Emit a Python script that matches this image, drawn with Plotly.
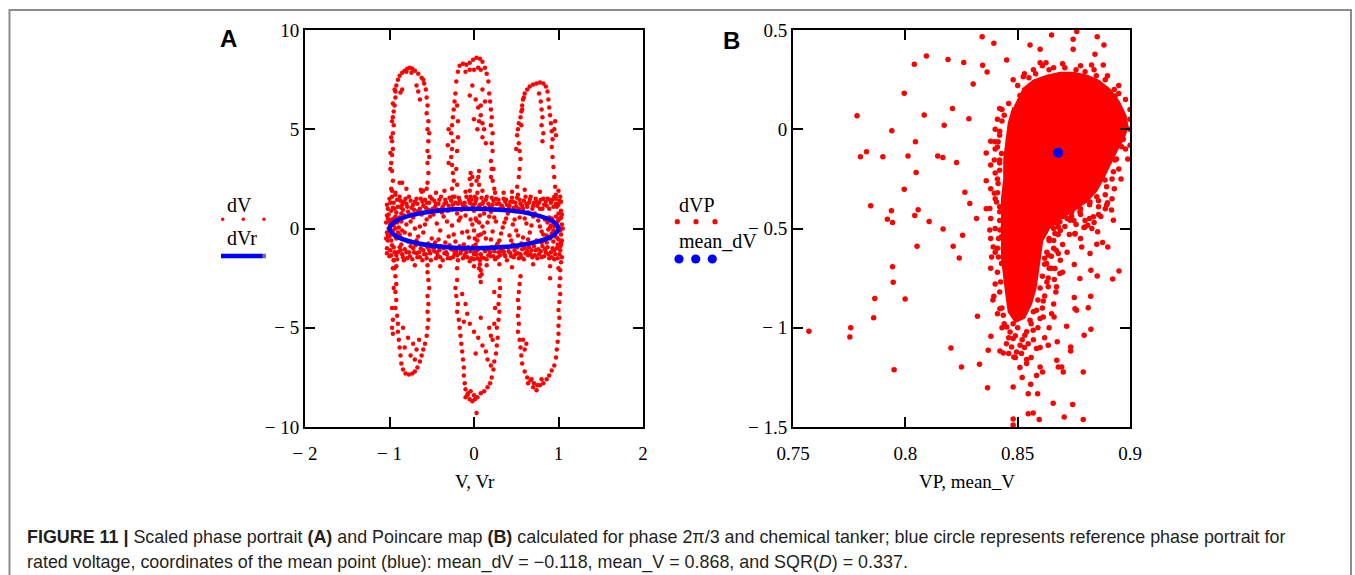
import plotly.graph_objects as go

W, H = 1355, 575

# ---------------- Panel A: scaled phase portrait (V, dV) ----------------
# samples in the central band around the reference portrait
dv_band = [
    (-1.03,1.2),(-1.0,1.5),(-0.98,0.9),(-0.95,1.3),(-0.93,1.7),(-0.9,1.1),(-0.87,1.4),(-0.84,0.95),(-0.8,1.25),
    (-0.77,1.6),(-0.74,1.05),(-0.7,1.35),(-0.66,0.9),(-0.63,1.5),(-0.6,1.15),(-0.56,1.3),(-0.52,1.6),(-0.49,1.0),
    (-0.45,1.25),(-0.41,1.45),(-0.37,1.1),(-0.33,1.3),(-0.29,1.55),(-0.25,1.2),(-0.21,1.0),(-0.17,1.4),(-0.13,1.15),
    (-0.09,1.6),(-0.05,1.3),(-0.01,1.05),(0.03,1.5),(0.07,1.2),(0.11,1.35),(0.15,1.6),(0.19,1.1),(0.23,1.4),
    (0.27,1.25),(0.31,1.0),(0.35,1.5),(0.39,1.2),(0.43,1.35),(0.47,1.05),(0.51,1.55),(0.55,1.25),(0.59,1.4),
    (0.63,1.1),(0.67,1.6),(0.71,1.3),(0.75,1.15),(0.79,1.45),(0.83,1.2),(0.87,1.5),(0.91,1.3),(0.95,1.6),
    (0.98,1.1),(1.01,1.4),(1.03,0.9),
    (-1.01,0.7),(-0.96,1.05),(-0.92,0.8),(-0.88,1.6),(-0.85,1.2),(-0.81,1.5),(-0.78,0.85),(-0.72,1.2),(-0.68,1.5),
    (-0.64,1.0),(-0.58,1.45),(-0.54,0.95),(-0.47,1.4),(-0.43,0.95),(-0.39,1.6),(-0.35,1.25),(-0.31,0.9),(-0.27,1.4),
    (-0.23,1.6),(-0.19,1.25),(-0.15,0.95),(-0.11,1.3),(-0.07,1.0),(-0.03,1.45),(0.01,1.25),(0.05,1.0),(0.09,1.55),
    (0.13,1.05),(0.17,1.25),(0.21,1.55),(0.25,0.95),(0.29,1.45),(0.33,1.15),(0.37,1.35),(0.41,1.0),(0.45,1.55),
    (0.49,1.3),(0.53,1.0),(0.57,1.15),(0.61,1.6),(0.65,1.3),(0.69,1.0),(0.73,1.5),(0.77,1.3),(0.81,1.0),
    (0.85,1.35),(0.89,1.0),(0.93,1.45),(0.97,1.25),(1.0,0.75),(1.02,1.6),
    (-1.02,1.0),(-0.99,1.3),(-0.94,1.0),(-0.91,1.45),(-0.86,1.05),(-0.83,1.35),(-0.79,1.1),(-0.75,1.4),
    (-0.71,0.95),(-0.67,1.25),(-0.61,1.35),(-0.57,1.05),(-0.53,1.3),(-0.5,1.5),(-0.46,1.1),(-0.42,1.25),
    (-0.38,1.0),(-0.34,1.45),(-0.3,1.15),(-0.26,1.0),(-0.22,1.3),(-0.18,1.55),(-0.14,1.25),(-0.1,1.1),
    (-0.06,1.45),(-0.02,1.2),(0.02,1.4),(0.06,1.1),(0.1,1.25),(0.14,1.45),(0.18,1.0),(0.22,1.2),(0.26,1.5),
    (0.3,1.25),(0.34,1.05),(0.38,1.45),(0.42,1.15),(0.46,1.35),(0.5,1.1),(0.54,1.45),(0.58,1.0),(0.62,1.25),
    (0.66,1.45),(0.7,1.15),(0.74,1.35),(0.78,1.0),(0.82,1.5),(0.86,1.15),(0.9,1.45),(0.94,1.1),(0.97,1.5),
    (1.0,1.2),(1.03,1.35),
    (-0.97,1.9),(-0.8,2.0),(-0.45,1.8),(-0.35,1.9),(0.1,1.9),(0.35,1.8),(0.6,1.95),(0.78,1.85),(1.0,1.9),
    (-0.62,1.85),(0.45,1.85),(-0.1,1.85),(0.25,1.8),
    (-1.03,-1.0),(-1.0,-1.4),(-0.97,-0.85),(-0.94,-1.2),(-0.91,-1.55),(-0.88,-0.95),(-0.85,-1.3),(-0.82,-1.05),
    (-0.79,-1.5),(-0.75,-0.9),(-0.71,-1.2),(-0.67,-1.45),(-0.63,-1.0),(-0.59,-1.3),(-0.55,-0.95),(-0.51,-1.6),
    (-0.47,-1.15),(-0.43,-1.35),(-0.39,-0.9),(-0.35,-1.25),(-0.31,-1.5),(-0.27,-1.05),(-0.23,-1.3),(-0.19,-1.6),
    (-0.15,-1.1),(-0.11,-1.35),(-0.07,-0.95),(-0.03,-1.5),(0.01,-1.2),(0.05,-1.0),(0.09,-1.45),(0.13,-1.15),
    (0.17,-1.35),(0.21,-0.95),(0.25,-1.55),(0.29,-1.2),(0.33,-1.0),(0.37,-1.4),(0.41,-1.15),(0.45,-0.9),
    (0.49,-1.3),(0.53,-1.5),(0.57,-1.05),(0.61,-1.25),(0.65,-0.95),(0.69,-1.45),(0.73,-1.1),(0.77,-1.3),
    (0.81,-0.9),(0.85,-1.2),(0.89,-1.5),(0.93,-1.0),(0.96,-1.3),(0.99,-0.8),(1.02,-1.1),(1.04,-1.45),
    (-1.02,-0.6),(-0.99,-1.1),(-0.95,-1.6),(-0.9,-1.2),(-0.86,-0.8),(-0.83,-1.6),(-0.77,-1.2),(-0.73,-1.55),
    (-0.69,-0.85),(-0.65,-1.2),(-0.61,-1.6),(-0.57,-1.3),(-0.53,-1.1),(-0.49,-0.85),(-0.45,-1.5),(-0.41,-1.1),
    (-0.37,-1.6),(-0.33,-1.2),(-0.29,-0.85),(-0.25,-1.45),(-0.21,-1.15),(-0.17,-0.9),(-0.13,-1.5),(-0.09,-1.2),
    (-0.05,-1.65),(-0.01,-0.9),(0.03,-1.3),(0.07,-1.6),(0.11,-1.0),(0.15,-1.55),(0.19,-1.2),(0.23,-1.4),
    (0.27,-0.85),(0.31,-1.35),(0.35,-1.15),(0.39,-1.6),(0.43,-1.25),(0.47,-1.45),(0.51,-0.95),(0.55,-1.3),
    (0.59,-1.55),(0.63,-1.15),(0.67,-1.3),(0.71,-0.9),(0.75,-1.5),(0.79,-1.15),(0.83,-1.4),(0.87,-0.95),
    (0.91,-1.2),(0.95,-1.55),(0.98,-1.0),(1.01,-1.3),(1.03,-0.7),
    (-1.03,-1.25),(-0.98,-1.35),(-0.95,-0.95),(-0.92,-1.35),(-0.87,-1.1),(-0.84,-1.45),(-0.8,-1.2),(-0.76,-1.4),
    (-0.72,-1.0),(-0.68,-1.25),(-0.64,-1.45),(-0.6,-1.1),(-0.56,-1.5),(-0.52,-1.25),(-0.48,-1.0),(-0.44,-1.2),
    (-0.4,-1.45),(-0.36,-1.0),(-0.32,-1.3),(-0.28,-1.5),(-0.24,-1.1),(-0.2,-1.35),(-0.16,-1.25),(-0.12,-1.05),
    (-0.08,-1.45),(-0.04,-1.15),(0.0,-1.55),(0.04,-1.1),(0.08,-1.3),(0.12,-1.5),(0.16,-1.05),(0.2,-1.4),
    (0.24,-1.15),(0.28,-1.45),(0.32,-1.15),(0.36,-1.3),(0.4,-0.95),(0.44,-1.4),(0.48,-1.1),(0.52,-1.25),
    (0.56,-1.45),(0.6,-1.0),(0.64,-1.35),(0.68,-1.1),(0.72,-1.35),(0.76,-1.05),(0.8,-1.45),(0.84,-1.05),
    (0.88,-1.3),(0.92,-1.45),(0.95,-1.1),(0.99,-1.5),(1.02,-0.9),
    (-0.92,-1.9),(-0.7,-1.85),(-0.4,-1.9),(-0.2,-2.0),(0.0,-1.9),(0.15,-1.85),(0.45,-1.95),(0.7,-1.8),
    (0.9,-1.9),(1.0,-2.0),(-0.55,-1.85),(0.3,-1.8),
    (-1.04,0.3),(-1.03,-0.2),(-1.02,0.5),(-1.01,0.0),(-1.0,-0.4),(-0.99,0.2),(-0.98,-0.6),(-0.97,0.45),
    (-0.96,-0.1),(-0.95,0.15),(-0.94,-0.35),(-0.93,0.6),(-0.92,-0.5),(-0.91,0.3),(-0.9,-0.2),(-0.89,0.05),
    (-0.88,0.55),(-0.87,-0.45),(-0.86,0.35),(-0.85,-0.1),(-1.04,-0.5),(-1.03,0.65),(-1.02,-0.35),
    (-1.0,0.35),(-0.97,-0.25),(-0.95,0.5),(-0.93,0.0),(-0.9,0.4),(-0.88,-0.3),
    (1.04,0.2),(1.03,-0.3),(1.02,0.5),(1.01,0.0),(1.0,-0.55),(0.99,0.35),(0.98,-0.15),(0.97,0.6),(0.96,-0.4),
    (0.95,0.1),(0.94,-0.65),(0.93,0.4),(0.92,-0.25),(0.91,0.15),(0.9,-0.5),(0.89,0.55),(0.88,-0.05),(0.87,0.3),
    (0.86,-0.35),(1.04,-0.6),(1.03,0.55),(1.02,-0.1),(1.05,0.0),(1.04,0.7),(1.03,-0.8),
    (1.0,0.45),(0.98,-0.45),(0.96,0.25),(0.94,-0.1),(0.92,0.5),(0.9,0.05),
    (-0.8,0.2),(-0.76,-0.3),(-0.72,0.55),(-0.68,-0.6),(-0.64,0.1),(-0.6,-0.2),(-0.56,0.45),(-0.5,-0.5),
    (-0.44,0.25),(-0.4,-0.1),(-0.36,0.6),(-0.3,-0.4),(-0.26,0.15),(-0.22,-0.65),(-0.18,0.4),(-0.14,-0.2),
    (-0.1,0.65),(-0.06,-0.45),(-0.02,0.2),(0.0,-0.1),(0.02,0.5),(0.04,-0.6),(0.06,0.3),(0.08,-0.3),(0.1,0.1),
    (0.14,-0.5),(0.18,0.6),(0.22,-0.15),(0.26,0.35),(0.3,-0.6),(0.34,0.05),(0.38,0.5),(0.42,-0.35),(0.46,0.2),
    (0.5,-0.1),(0.54,0.55),(0.58,-0.45),(0.62,0.25),(0.66,-0.2),(0.7,0.6),(0.74,-0.6),(0.78,0.1),(0.82,-0.3),
    (0.84,0.45),(-0.83,0.65),(-0.78,-0.65),(-0.7,0.0),(-0.62,0.7),(-0.48,0.7),(-0.46,-0.7),(-0.34,-0.7),
    (-0.2,0.75),(0.12,0.75),(0.28,-0.75),(0.4,0.75),(0.56,-0.75),(0.72,0.75),(0.8,-0.7),
    (-0.75,0.35),(-0.66,-0.4),(-0.58,0.2),(-0.52,0.6),(-0.42,-0.55),(-0.32,0.35),(-0.24,-0.3),(-0.16,0.55),
    (-0.08,-0.15),(-0.04,0.45),(0.01,-0.5),(0.07,0.65),(0.12,-0.2),(0.16,0.3),(0.2,-0.55),(0.24,0.55),
    (0.32,-0.25),(0.36,0.3),(0.44,-0.6),(0.48,0.45),(0.52,-0.35),(0.6,0.5),(0.64,-0.55),(0.68,0.15),
    (0.76,0.4),(0.8,-0.15),(-0.82,-0.2),(-0.74,0.7),(-0.54,-0.75),(-0.38,0.8),(-0.12,-0.8),(0.2,0.85),
    (0.46,-0.8),(0.64,0.8),(0.86,-0.7),(-0.86,0.75),
    (0.0,0.9),(0.02,-0.8),(0.03,0.4),(0.05,-0.35),(0.04,1.8),(0.06,2.2),(0.05,2.6),(0.06,2.9),(0.03,2.4),
    (0.07,-1.8),(0.08,-2.1),(0.07,-2.4),(0.08,-2.7),(0.06,-2.0),(0.09,-2.3),(0.01,1.6),(0.04,-1.5),(0.0,-1.3),
]

# samples on the three upper excursions
dv_loops_up = [
    (-0.97,1.6),(-0.98,2.0),(-0.96,2.4),(-0.97,2.9),(-0.98,3.3),(-0.97,3.7),(-0.96,4.0),(-0.97,4.4),(-0.96,4.8),
    (-0.95,5.2),(-0.96,5.6),(-0.95,5.9),(-0.94,6.2),(-0.93,6.6),(-0.93,6.9),(-0.92,7.2),(-0.9,7.5),(-0.88,7.7),
    (-0.85,7.85),(-0.82,7.95),(-0.79,8.05),(-0.76,8.1),(-0.73,8.05),(-0.7,7.95),(-0.66,7.8),(-0.62,7.6),
    (-0.59,7.3),(-0.57,7.0),(-0.56,6.6),(-0.55,6.2),(-0.56,5.8),(-0.54,5.4),(-0.55,5.0),(-0.54,4.4),(-0.55,3.9),
    (-0.55,3.3),(-0.54,2.8),(-0.55,2.3),(-0.56,2.0),
    (-0.68,7.2),(-0.66,6.9),(-0.64,6.5),(-0.85,7.0),(-0.87,6.85),(-0.6,7.5),(-0.88,2.3),(-0.85,2.3),(-0.93,1.8),
    (-0.63,1.95),(-0.6,1.9),(-0.99,3.0),(-0.99,3.8),(-0.98,4.6),(-0.97,5.4),(-0.96,6.3),(-0.94,7.0),(-0.8,7.9),
    (-0.74,7.85),(-0.53,3.6),(-0.53,4.8),
    (-0.25,1.6),(-0.26,2.0),(-0.24,2.4),(-0.25,2.8),(-0.26,3.2),(-0.27,3.6),(-0.26,4.0),(-0.25,4.4),(-0.27,4.8),
    (-0.26,5.2),(-0.25,5.6),(-0.24,6.0),(-0.23,6.4),(-0.22,6.8),(-0.21,7.4),(-0.19,7.9),(-0.17,8.2),(-0.13,8.3),
    (-0.09,8.25),(-0.05,8.35),(-0.01,8.5),(0.03,8.6),(0.07,8.55),(0.1,8.4),(0.13,8.1),(0.15,7.8),(0.17,7.4),
    (0.18,6.8),(0.19,6.4),(0.2,6.0),(0.21,5.6),(0.2,5.2),(0.22,4.8),(0.21,4.3),(0.22,3.9),(0.2,3.4),(0.21,3.0),
    (0.2,2.6),(0.23,3.0),(0.22,2.4),(0.24,2.0),
    (-0.2,2.2),(-0.21,3.0),(-0.2,3.9),(-0.19,4.6),(-0.19,5.4),(-0.2,6.2),(-0.3,3.3),(-0.31,4.2),(-0.3,5.0),
    (0.02,6.5),(0.05,6.1),(0.08,5.7),(0.1,5.3),(0.06,5.4),(0.0,5.5),(0.04,5.0),(0.12,5.0),(0.1,4.6),(0.14,4.3),
    (-0.05,6.7),(-0.02,7.2),(0.1,7.0),(0.13,6.4),(0.08,6.2),(0.0,8.0),(0.05,8.1),(-0.1,7.9),(0.08,8.0),(-0.05,8.0),
    (-0.04,2.8),(-0.05,2.5),(-0.03,2.2),(-0.05,1.9),(-0.04,1.6),(-0.02,2.6),
    (0.52,1.7),(0.51,2.1),(0.53,2.6),(0.54,3.0),(0.55,3.5),(0.54,3.9),(0.53,4.3),(0.51,4.7),(0.52,5.0),
    (0.53,5.3),(0.55,5.6),(0.56,5.9),(0.57,6.2),(0.58,6.5),(0.6,6.8),(0.63,7.0),(0.66,7.15),(0.7,7.25),
    (0.74,7.3),(0.78,7.35),(0.82,7.3),(0.85,7.15),(0.87,6.9),(0.88,6.5),(0.89,6.1),(0.9,5.7),(0.91,5.3),
    (0.92,4.9),(0.93,4.5),(0.92,4.1),(0.93,3.6),(0.94,3.1),(0.95,2.6),(0.96,2.1),(0.97,1.7),
    (0.95,5.0),(0.96,5.4),(0.97,4.7),(0.8,6.0),(0.81,5.6),(0.8,5.2),(0.82,4.8),(0.81,4.4),(0.79,6.4),(0.77,6.8),
    (0.57,6.0),(0.59,6.6),(0.56,5.2),(0.5,4.0),
]

# samples on the three lower excursions
dv_loops_down = [
    (-0.95,-1.6),(-0.94,-2.0),(-0.93,-2.4),(-0.92,-2.8),(-0.93,-3.2),(-0.92,-3.6),(-0.93,-4.0),(-0.91,-4.4),
    (-0.9,-4.8),(-0.9,-5.2),(-0.89,-5.6),(-0.88,-6.0),(-0.87,-6.4),(-0.86,-6.8),(-0.84,-7.1),(-0.81,-7.3),
    (-0.77,-7.35),(-0.73,-7.3),(-0.7,-7.2),(-0.67,-7.0),(-0.64,-6.7),(-0.62,-6.4),(-0.6,-6.1),(-0.58,-5.8),
    (-0.56,-5.4),(-0.55,-5.0),(-0.54,-4.6),(-0.55,-4.2),(-0.54,-3.8),(-0.55,-3.4),(-0.53,-3.0),(-0.54,-2.6),
    (-0.55,-2.2),
    (-0.78,-5.5),(-0.72,-5.8),(-0.68,-6.1),(-0.65,-5.6),(-0.75,-6.4),(-0.7,-6.6),(-0.82,-6.0),(-0.84,-5.0),
    (-0.97,-4.0),(-0.96,-4.6),(-0.97,-5.0),(-0.96,-5.3),(-0.96,-2.0),(-0.95,-3.0),
    (-0.2,-2.6),(-0.22,-3.0),(-0.21,-3.4),(-0.19,-3.8),(-0.2,-4.2),(-0.18,-4.6),(-0.17,-5.0),(-0.16,-5.4),
    (-0.15,-5.8),(-0.14,-6.2),(-0.13,-6.6),(-0.12,-7.0),(-0.12,-7.4),(-0.11,-7.8),(-0.1,-8.1),(-0.08,-8.4),
    (-0.05,-8.6),(-0.02,-8.7),(0.01,-8.6),(0.04,-8.5),(0.08,-8.3),(0.12,-8.2),(0.16,-8.0),(0.19,-7.8),
    (0.21,-7.5),(0.23,-7.1),(0.24,-6.7),(0.26,-6.3),(0.27,-5.9),(0.28,-5.5),(0.27,-5.0),(0.29,-4.6),(0.3,-4.2),
    (0.29,-3.8),(0.3,-3.4),(0.31,-3.0),(0.3,-2.6),
    (-0.07,-8.3),(-0.04,-8.2),(-0.1,-8.5),(0.0,-8.4),(0.03,-9.3),
    (-0.14,-3.3),(-0.1,-3.8),(-0.08,-4.3),(-0.05,-4.8),(0.0,-5.2),(0.05,-5.5),(0.1,-5.9),(0.14,-6.2),
    (-0.12,-4.7),(0.18,-5.0),(0.2,-5.4),(0.16,-6.6),(0.2,-6.9),(0.02,-6.3),(0.08,-4.5),
    (0.24,-3.2),(0.25,-4.0),(0.24,-4.8),(0.22,-5.6),
    (0.55,-2.4),(0.54,-2.8),(0.53,-3.2),(0.52,-3.6),(0.53,-4.0),(0.52,-4.4),(0.53,-4.8),(0.52,-5.2),(0.54,-5.6),
    (0.55,-6.0),(0.56,-6.4),(0.57,-6.8),(0.6,-7.2),(0.63,-7.5),(0.67,-7.65),(0.71,-7.8),(0.75,-7.9),(0.78,-7.9),
    (0.82,-7.8),(0.86,-7.6),(0.89,-7.4),(0.92,-7.15),(0.95,-6.9),(0.97,-6.5),(0.98,-6.1),(0.99,-5.7),(1.0,-5.3),
    (1.0,-4.9),(1.01,-4.5),(1.0,-4.1),(1.01,-3.7),(1.02,-3.3),(1.01,-2.9),(1.02,-2.5),(1.02,-2.1),(1.03,-1.7),
    (0.64,-7.8),(0.7,-8.0),(0.74,-8.15),(0.68,-7.6),(0.8,-7.6),(0.58,-5.6),(0.62,-5.8),(0.6,-6.1),(0.9,-2.5),
]

# reference phase portrait for rated voltage (Vr, dVr)
ref_portrait = [
    (1.0,0.0),(0.924,0.383),(0.707,0.707),(0.383,0.924),(0.0,1.0),(-0.383,0.924),(-0.707,0.707),
    (-0.924,0.383),(-1.0,0.0),(-0.924,-0.383),(-0.707,-0.707),(-0.383,-0.924),(0.0,-1.0),(0.383,-0.924),
    (0.707,-0.707),(0.924,-0.383),(1.0,0.0),
]

# ---------------- Panel B: Poincare map (VP, dVP) ----------------
# outline of the saturated core of the point cloud
dvp_core = [
    (0.852,0.2),(0.857,0.245),(0.863,0.27),(0.869,0.285),(0.875,0.285),(0.881,0.27),(0.886,0.245),(0.891,0.2),
    (0.895,0.14),(0.898,0.07),(0.899,0.01),(0.897,-0.05),(0.894,-0.11),(0.891,-0.18),(0.888,-0.25),
    (0.885,-0.31),(0.881,-0.36),(0.875,-0.41),(0.869,-0.45),(0.864,-0.5),(0.861,-0.56),(0.86,-0.64),
    (0.859,-0.72),(0.858,-0.8),(0.856,-0.88),(0.853,-0.95),(0.849,-0.97),(0.846,-0.92),(0.845,-0.84),
    (0.844,-0.75),(0.843,-0.65),(0.843,-0.55),(0.843,-0.45),(0.843,-0.35),(0.844,-0.25),(0.844,-0.15),
    (0.845,-0.06),(0.846,0.03),(0.848,0.11),
]

# individual samples
dvp_points = [
    (0.7785,0.068),(0.780,-0.139),(0.7827,-0.113),(0.790,-0.139),(0.794,-0.008),(0.7995,0.181),(0.804,0.327),
    (0.8094,0.369),(0.8084,0.072),(0.8012,-0.135),(0.8045,-0.063),(0.8048,-0.218),(0.7995,-0.302),
    (0.7846,-0.386),(0.7938,-0.411),(0.792,-0.453),(0.7943,-0.470),(0.8057,-0.406),(0.8042,-0.434),
    (0.8106,-0.465),(0.8168,-0.502),(0.819,0.352),(0.8173,0.020),(0.821,0.104),(0.8144,-0.135),(0.8167,-0.142),
    (0.8228,-0.167),(0.826,0.336),(0.8302,0.228),(0.8283,0.053),(0.8342,0.466),(0.8344,0.322),(0.8364,0.288),
    (0.8394,0.433),(0.8451,0.349),(0.8265,-0.318),(0.8287,-0.374),(0.8317,-0.449),(0.8255,-0.534),
    (0.8376,-0.399),(0.8555,0.425),(0.86,0.403),(0.8651,0.475),(0.8763,0.492),(0.8747,0.453),(0.8747,0.403),
    (0.8854,0.466),(0.8884,0.425),(0.8844,0.378),(0.8881,0.324),(0.8829,0.324),(0.86,0.335),(0.8626,0.335),
    (0.8525,0.265),(0.8934,0.167),(0.9,0.05),
    (0.853,0.28),(0.857,0.3),(0.861,0.32),(0.866,0.31),(0.871,0.31),(0.876,0.3),(0.88,0.29),(0.885,0.27),
    (0.889,0.25),(0.893,0.2),(0.895,0.18),(0.848,0.25),(0.85,0.22),(0.855,0.26),(0.843,0.1),(0.841,0.05),
    (0.84,0.0),(0.842,-0.03),(0.838,-0.06),(0.84,-0.1),(0.836,-0.12),(0.838,-0.18),(0.84,-0.22),(0.836,-0.26),
    (0.838,-0.3),(0.84,-0.35),(0.836,-0.4),(0.838,-0.45),(0.84,-0.5),(0.9,0.0),(0.898,-0.1),(0.897,-0.05),
    (0.894,-0.15),(0.895,-0.2),(0.892,-0.25),(0.893,-0.3),(0.889,-0.33),(0.886,-0.36),(0.882,-0.38),
    (0.878,-0.4),(0.874,-0.42),(0.87,-0.44),(0.868,-0.47),(0.866,-0.5),(0.864,-0.55),(0.866,-0.6),
    (0.862,-0.65),(0.865,-0.7),
    (0.889,-0.4),(0.886,-0.43),(0.882,-0.45),(0.878,-0.43),(0.875,-0.46),(0.871,-0.49),(0.884,-0.3),
    (0.88,-0.36),(0.874,-0.39),(0.87,-0.41),(0.892,-0.35),(0.896,-0.25),(0.899,-0.15),(0.9,-0.08),(0.9,0.1),
    (0.898,0.15),(0.895,0.22),(0.89,0.27),(0.884,0.3),(0.878,0.32),(0.87,0.33),(0.864,0.3),(0.858,0.28),
    (0.851,0.17),(0.846,0.13),(0.844,0.07),(0.842,-0.01),(0.841,-0.09),(0.842,-0.17),(0.841,-0.25),
    (0.841,-0.32),(0.842,-0.39),(0.842,-0.46),
    (0.872,-0.45),(0.876,-0.48),(0.88,-0.46),(0.884,-0.47),(0.887,-0.44),(0.869,-0.51),(0.873,-0.53),
    (0.878,-0.55),(0.883,-0.5),(0.886,-0.39),(0.89,-0.37),(0.874,-0.44),(0.868,-0.43),
    (0.842,0.105),(0.843,0.041),(0.8413,-0.063),(0.8428,-0.122),(0.842,-0.155),(0.8399,-0.063),(0.8396,-0.155),
    (0.842,-0.206),(0.8413,-0.273),(0.8406,-0.366),(0.842,-0.416),(0.8396,-0.323),
    (0.8948,-0.046),(0.8963,-0.088),(0.8933,-0.155),(0.8926,-0.214),(0.8889,-0.256),(0.8896,-0.29),
    (0.8852,-0.34),(0.8822,-0.366),(0.8896,-0.382),(0.8918,-0.407),(0.8926,-0.458),(0.8837,-0.441),
    (0.88,-0.492),(0.8755,-0.525),(0.8777,-0.416),(0.8733,-0.458),(0.8688,-0.407),(0.8681,-0.492),
    (0.8421,-0.508),(0.8436,-0.601),(0.8414,-0.643),(0.8428,-0.676),(0.8424,-0.769),(0.8394,-0.841),
    (0.8421,-0.904),(0.8436,-0.937),(0.8451,-0.996),(0.8466,-1.021),(0.848,-1.054),(0.8473,-1.097),
    (0.8495,-1.122),(0.8421,-1.117),(0.8436,-1.127),(0.8483,-1.147),(0.8517,-1.13),(0.854,-1.16),
    (0.8511,-1.088),(0.8547,-1.08),(0.8584,-1.105),(0.8532,-1.038),(0.8569,-1.013),(0.8555,-0.962),
    (0.86,-0.954),(0.8584,-0.912),(0.8614,-0.946),(0.854,-1.18),(0.86,-1.198),(0.8611,-1.223),(0.8584,-1.24),
    (0.8558,-1.285),(0.8547,-1.332),(0.8589,-1.332),(0.8547,-1.433),(0.8569,-1.43),(0.8596,-1.462),
    (0.848,-1.299),(0.848,-1.46),(0.848,-1.49),(0.8636,-1.088),(0.8676,-1.071),(0.8674,-1.164),(0.8681,-1.198),
    (0.8703,-1.223),(0.8696,-1.198),(0.8658,-1.38),(0.8707,-1.449),(0.8745,-1.387),(0.8792,-1.462),
    (0.8792,-1.223),(0.8736,-1.097),(0.8736,-1.117),(0.8718,-0.992),(0.8796,-1.038),(0.8826,-1.008),
    (0.8651,-0.929),(0.8662,-0.946),(0.8755,-0.904),(0.8762,-0.912),(0.8814,-0.899),(0.8752,-0.848),
    (0.8825,-0.841),(0.8614,-0.865),(0.8636,-0.794),(0.8673,-0.794),(0.8688,-0.727),(0.8663,-0.757),
    (0.8636,-0.749),(0.8777,-0.752),(0.8826,-0.71),(0.8854,-0.739),(0.8923,-0.755),(0.8951,-0.714),
    (0.8752,-0.681),(0.8822,-0.626),(0.8852,-0.579),(0.8878,-0.57),(0.8901,-0.593),(0.8785,-0.593),
    (0.8755,-0.528),(0.8795,-0.495),(0.8812,-0.483),(0.8856,-0.517),(0.8688,-0.466),(0.8666,-0.525),
    (0.8671,-0.609),(0.8681,-0.626),(0.8636,-0.634),(0.8666,-0.701),(0.8629,-0.676),
    (0.8384,-0.643),(0.8391,-0.593),(0.8376,-0.508),(0.8428,-0.542),(0.8381,-1.043),(0.8369,-1.113),
    (0.8321,-0.942),(0.833,-1.184),(0.8366,-1.302),(0.825,-1.198),(0.8203,-1.102),(0.7943,-0.693),
    (0.7946,-0.771),(0.7864,-0.853),(0.7859,-0.949),(0.7999,-0.855),(0.7757,-1.0),(0.7753,-1.046),
    (0.7571,-1.018),(0.795,-1.211),(0.8052,-0.589),(0.8213,-0.589),(0.824,-0.648),(0.8436,-0.492),
    (0.8674,-0.475),
    (0.862,-0.5),(0.864,-0.56),(0.863,-0.62),(0.862,-0.68),(0.861,-0.74),(0.86,-0.8),(0.859,-0.86),
    (0.857,-0.92),(0.856,-0.98),(0.854,-1.02),(0.852,-1.06),(0.85,-1.0),(0.848,-0.98),(0.846,-1.05),
    (0.844,-0.98),(0.843,-0.9),(0.842,-0.82),(0.841,-0.72),(0.841,-0.6),(0.8415,-0.55),
    (0.838,-0.55),(0.84,-0.62),(0.838,-0.7),(0.84,-0.78),(0.839,-0.86),(0.841,-0.93),(0.843,-1.0),
    (0.845,-1.08),(0.849,-1.04),(0.853,-1.1),(0.857,-1.06),(0.859,-1.0),(0.861,-0.9),(0.862,-0.84),
    (0.863,-0.77),(0.864,-0.7),(0.865,-0.64),(0.866,-0.56),(0.868,-0.53),(0.87,-0.58),(0.872,-0.62),
    (0.869,-0.66),(0.87,-0.72),(0.867,-0.82),(0.866,-0.88),(0.864,-1.0),(0.862,-1.05),(0.86,-1.1),
    (0.856,-1.15),(0.851,-1.2),(0.849,-1.15),(0.846,-1.13),(0.852,-1.25),
]

mean_V, mean_dV = 0.868, -0.118

# --------------------------------------------------------------------------
RED, BLUE = "#ff0000", "#0000ff"
SERIF = "Liberation Serif"
SANS = "Liberation Sans"


def cols(pairs):
    return [p[0] for p in pairs], [p[1] for p in pairs]


def px(x):
    return x / W


def py(y):
    return 1 - y / H


fig = go.Figure()

v_all, dv_all = cols(dv_band + dv_loops_up + dv_loops_down)
fig.add_trace(go.Scatter(x=v_all, y=dv_all, mode="markers", name="dV",
                         marker=dict(color=RED, size=4.5), xaxis="x", yaxis="y"))
vr, dvr = cols(ref_portrait)
fig.add_trace(go.Scatter(x=vr, y=dvr, mode="lines", name="dVr", line_shape="spline",
                         line=dict(color=BLUE, width=4.5), xaxis="x", yaxis="y"))

cx, cy = cols(dvp_core)
fig.add_trace(go.Scatter(x=cx, y=cy, mode="lines", fill="toself", fillcolor=RED,
                         line=dict(color=RED, width=2), xaxis="x2", yaxis="y2", hoverinfo="skip"))
vp, dvp = cols(dvp_points)
fig.add_trace(go.Scatter(x=vp, y=dvp, mode="markers", name="dVP",
                         marker=dict(color=RED, size=5.5), xaxis="x2", yaxis="y2"))
fig.add_trace(go.Scatter(x=[mean_V], y=[mean_dV], mode="markers", name="mean_dV",
                         marker=dict(color=BLUE, size=10), xaxis="x2", yaxis="y2"))


def minus(v):
    s = f"{abs(v):g}"
    return ("\u2212 " + s) if v < 0 else s


axis_common = dict(showline=True, linecolor="black", linewidth=2, mirror="ticks",
                   ticks="inside", ticklen=10, tickwidth=2, tickcolor="black",
                   showgrid=False, zeroline=False, automargin=False,
                   tickfont=dict(family=SERIF, size=19, color="black"))

ydom = [py(427), py(30)]
xa_ticks = [-2, -1, 0, 1, 2]
ya_ticks = [-10, -5, 0, 5, 10]
xb_ticks = [0.75, 0.8, 0.85, 0.9]
yb_ticks = [-1.5, -1, -0.5, 0, 0.5]

fig.update_layout(
    width=W, height=H, autosize=False,
    margin=dict(l=0, r=0, t=0, b=0, pad=0, autoexpand=False),
    paper_bgcolor="white", plot_bgcolor="white", showlegend=False,
    xaxis=dict(domain=[px(305), px(643)], range=[-2, 2], anchor="y",
               tickvals=xa_ticks, ticktext=[minus(v) for v in xa_ticks],
               ticklabelstandoff=8, **axis_common),
    yaxis=dict(domain=ydom, range=[-10, 10], anchor="x",
               tickvals=ya_ticks, ticktext=[minus(v) for v in ya_ticks], **axis_common),
    xaxis2=dict(domain=[px(793), px(1130)], range=[0.75, 0.9], anchor="y2",
                tickvals=xb_ticks, ticktext=[minus(v) for v in xb_ticks],
                ticklabelstandoff=8, **axis_common),
    yaxis2=dict(domain=ydom, range=[-1.5, 0.5], anchor="x2",
                tickvals=yb_ticks, ticktext=[minus(v) for v in yb_ticks], **axis_common),
)


def note(text, x, y, size, family=SERIF, xanchor="center", color="black", yanchor="middle"):
    fig.add_annotation(text=text, x=px(x), y=py(y), xref="paper", yref="paper",
                       xanchor=xanchor, yanchor=yanchor, showarrow=False,
                       font=dict(family=family, size=size, color=color))


# panel letters
note("<b>A</b>", 229, 39, 24, family=SANS)
note("<b>B</b>", 731.5, 40, 24, family=SANS)
# axis titles
note("V, Vr", 475, 481, 19)
note("VP, mean_V", 967, 481, 19)
# legend labels
note("dV", 225, 205, 20, xanchor="left")
note("dVr", 225, 238, 20, xanchor="left")
note("dVP", 677, 205, 20, xanchor="left")
note("mean_dV", 677, 241, 20, xanchor="left")

# caption
CAP = "#231f20"
note("<b>FIGURE 11 |</b> Scaled phase portrait <b>(A)</b> and Poincare map <b>(B)</b> calculated for phase "
     "2\u03c0/3 and chemical tanker; blue circle represents reference phase portrait for",
     25, 537, 17.9, family=SANS, xanchor="left", color=CAP)
note("rated voltage, coordinates of the mean point (blue): mean_dV = \u22120.118, mean_V = 0.868, "
     "and SQR(<i>D</i>) = 0.337.", 25, 562, 17.9, family=SANS, xanchor="left", color=CAP)

shapes = []


def dot(cx_, cy_, r, color):
    shapes.append(dict(type="circle", xref="paper", yref="paper",
                       x0=px(cx_ - r), x1=px(cx_ + r), y0=py(cy_ + r), y1=py(cy_ - r),
                       fillcolor=color, line=dict(width=0)))


for xx in (222.7, 243.3, 264):
    dot(xx, 219.3, 1.7, RED)
for xx in (677.3, 696, 715):
    dot(xx, 221.7, 2.6, RED)
for xx in (679, 695.7, 712.3):
    dot(xx, 259, 4.6, BLUE)
shapes.append(dict(type="line", xref="paper", yref="paper", x0=px(221), x1=px(263),
                   y0=py(256), y1=py(256), line=dict(color=BLUE, width=4.5)))
shapes.append(dict(type="line", xref="paper", yref="paper", x0=px(262.5), x1=px(266),
                   y0=py(256), y1=py(256), line=dict(color="#777777", width=4.5)))
# outer frame
shapes.append(dict(type="rect", xref="paper", yref="paper", x0=px(9.5), x1=px(1351),
                   y0=-0.2, y1=py(10), line=dict(color="#8c8c8c", width=2)))
fig.update_layout(shapes=shapes)

fig.write_html("out.html", post_script="document.body.style.margin='0';")
